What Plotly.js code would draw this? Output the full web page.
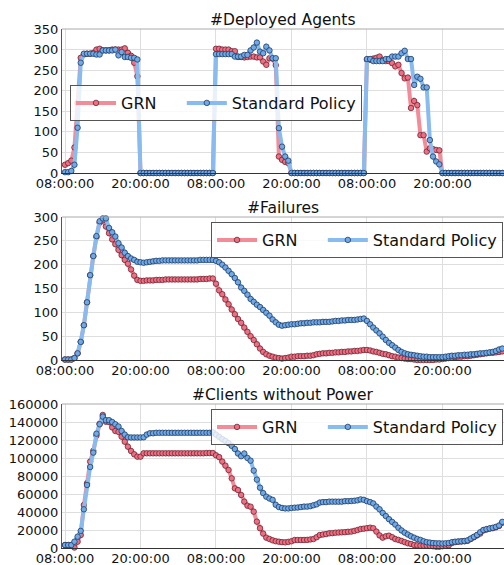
<!DOCTYPE html>
<html>
<head>
<meta charset="utf-8">
<script src="https://cdn.plot.ly/plotly-3.0.1.min.js"></script>
<style>html,body{margin:0;padding:0;background:#fff;}#chart{width:504px;height:565px;}</style>
</head>
<body>
<div id="chart"></div>
<script>
// ---- data (30-minute samples starting 08:00 on day 1) ----
const startTime = '2017-01-01 08:00:00';
const stepMinutes = 30;
const seriesNames = ['GRN', 'Standard Policy'];
const chartTitles = ['#Deployed Agents', '#Failures', '#Clients without Power'];

const agentsGRN = [
  20,24,30,62,170,280,288,290,290,292,300,302,298,298,298,300,300,300,300,303,292,285,268,235,0,
  0,0,0,0,0,0,0,0,0,0,0,0,0,0,0,0,0,0,0,0,0,0,0,
  302,302,300,300,300,296,296,282,282,281,282,283,283,281,281,271,263,279,278,262,40,32,27,24,0,
  0,0,0,0,0,0,0,0,0,0,0,0,0,0,0,0,0,0,0,0,0,0,0,
  275,275,278,280,283,275,272,272,267,259,263,243,230,232,158,175,165,92,92,52,60,58,56,55,0,
  0,0,0,0,0,0,0,0,0,0,0,0,0,0,0,0,0,0,0
];
const agentsStd = [
  2,2,5,20,110,268,290,290,290,290,288,288,298,298,298,298,300,286,294,282,282,280,280,276,0,
  0,0,0,0,0,0,0,0,0,0,0,0,0,0,0,0,0,0,0,0,0,0,0,
  289,289,289,289,289,289,283,283,283,287,287,298,305,317,295,291,307,298,279,279,109,64,40,30,0,
  0,0,0,0,0,0,0,0,0,0,0,0,0,0,0,0,0,0,0,0,0,0,0,
  277,277,272,272,272,272,277,277,283,283,283,291,297,277,277,214,234,229,208,208,80,40,28,21,0,
  0,0,0,0,0,0,0,0,0,0,0,0,0,0,0,0,0,0,0
];
const failGRN = [
  1,1,1,4,14,38,73,121,178,218,258,288,293,280,
  266,253,243,231,220,210,202,190,177,168,
  166,166,167,167,167,168,168,168,169,169,169,169,169,169,169,169,169,169,169,170,170,170,171,171,
  160,146,138,127,117,106,96,86,78,68,
  59,50,42,33,24,17,12,9,7,5,
  4,3,4,5,7,7,8,8,8,9,
  9,10,12,13,14,14,15,15,16,16,
  17,17,18,18,19,19,20,21,21,20,
  18,17,15,13,12,10,8,7,5,4,
  3,2,2,1,0,0,0,0,0,0,
  1,1,2,3,4,5,6,7,7,8,
  8,9,10,11,12,13,14,15,15,16,
  17,18
];
const failStd = [
  1,1,1,4,14,38,73,121,178,218,260,291,297,297,
  277,268,259,245,236,225,218,213,210,206,
  205,204,205,206,207,208,208,209,209,209,209,209,209,209,209,209,209,209,209,210,210,210,210,210,
  208,205,200,194,187,180,172,163,152,145,
  137,128,122,116,111,105,99,93,85,79,
  74,72,73,74,75,75,76,77,77,78,
  78,79,79,79,80,80,80,81,82,82,
  83,83,84,84,84,85,86,87,82,75,
  68,62,56,49,42,36,31,26,21,17,
  14,12,11,10,9,8,7,7,6,6,
  6,6,6,7,8,9,9,10,10,11,
  11,12,12,13,14,14,15,16,17,19,
  22,24
];
const clientsGRN = [
  3300,3300,3300,500,7000,14400,47800,72000,96000,108000,
  125000,138000,147800,140300,140000,134000,130000,129000,123700,118100,
  112600,107800,104100,101500,101500,105200,105200,105200,105200,105200,
  105200,105200,105200,105200,105200,105200,105200,105200,105200,105200,
  105200,105200,105200,105200,105200,105500,105500,105500,
  103000,101000,96000,91500,86700,77400,66300,64400,58900,51500,
  47000,45900,40400,29300,22000,16000,11500,10000,8500,7500,
  7000,6500,6300,6800,7500,8900,8900,8900,8900,9000,
  9500,10000,12000,14400,15000,15500,16300,16500,17000,17200,
  17400,17600,18000,18200,19000,20000,21100,21500,22000,22600,
  22000,18200,14000,11500,13000,13700,12000,10000,9000,7800,
  6500,5200,4500,3300,3000,2600,2600,2600,2400,2000,
  1500,1500,2000,2600,3000,5500,6500,7000,7200,7500,
  8000,10000,12000,14000,16000,19500,20500,21500,22000,23000,
  24500,28000
];
const clientsStd = [
  3300,3300,3300,7000,12600,19000,43000,70000,90000,106000,
  127000,137500,146000,142000,142000,140000,137500,135000,130000,126000,
  123000,122800,122800,122800,122800,123000,126000,127500,127500,128000,
  128000,128000,128000,128000,128000,128000,128000,128000,128000,128000,
  128000,128000,128000,128000,128000,128000,128000,128500,
  126000,123500,121000,119000,116500,113500,110000,105000,102000,105000,
  100000,97000,86000,76000,67000,61000,57000,55000,53500,48000,
  45500,44500,44000,44000,44500,44800,45000,45500,46000,46000,
  46500,47500,48500,50500,51000,51000,51500,51500,51500,51500,
  51500,52000,52000,52200,52500,53000,54000,53500,52000,51000,
  49500,46000,43000,39000,35500,32000,29000,26000,22500,19500,
  17000,15000,13000,11500,10000,9000,7500,6500,6000,5500,
  5200,5200,5000,5200,5500,6500,7000,7200,7500,7800,
  8500,10500,12500,14500,17500,20000,21000,21800,22500,23500,
  25000,29000
];

// ---- time axis values ----
function pad(n){return (n<10?'0':'')+n;}
function timeAt(k){
  const t0 = new Date(startTime.replace(' ','T')+'Z').getTime();
  const d = new Date(t0 + k*stepMinutes*60000);
  return d.getUTCFullYear()+'-'+pad(d.getUTCMonth()+1)+'-'+pad(d.getUTCDate())+' '+pad(d.getUTCHours())+':'+pad(d.getUTCMinutes())+':00';
}
const times = agentsGRN.map((_,k)=>timeAt(k));

// ---- styling ----
const W=504, H=565;
const FONT='DejaVu Sans, sans-serif';
const redLine='#f38c99', redFill='#ec6f83', redEdge='#6e2330';
const bluLine='#88bbf0', bluFill='#70a9e6', bluEdge='#1e3b63';
const xRange=['2017-01-01 07:31:20','2017-01-04 05:47:00'];
const xdom=[62/W,1];
function ydom(top,bottom){return [1-bottom/H, 1-top/H];}
const panels=[
  {top:29,bottom:173,range:[0,350],dtick:50,grn:agentsGRN,std:agentsStd,leg:{l:70,t:85}},
  {top:217,bottom:360,range:[0,300],dtick:50,grn:failGRN,std:failStd,leg:{l:211,t:222}},
  {top:404,bottom:548,range:[0,160000],dtick:20000,grn:clientsGRN,std:clientsStd,leg:{l:211,t:409}}
];

const traces=[]; const layout={
  width:W,height:H,margin:{l:0,r:0,t:0,b:0},paper_bgcolor:'#fff',plot_bgcolor:'#fff',
  font:{family:FONT,size:13,color:'#111'},showlegend:true,annotations:[],shapes:[]
};
const legendLabels=[seriesNames[0]+'\u00a0\u00a0\u00a0\u00a0', seriesNames[1]];
panels.forEach((p,idx)=>{
  const n=idx===0?'':String(idx+1);
  const legName='legend'+n;
  [[legendLabels[0],p.grn,redLine,redFill,redEdge],[legendLabels[1],p.std,bluLine,bluFill,bluEdge]].forEach(s=>{
    traces.push({type:'scatter',mode:'lines+markers',name:s[0],x:times,y:s[1],xaxis:'x'+n,yaxis:'y'+n,
      legend:legName,cliponaxis:false,
      line:{color:s[2],width:4},
      marker:{size:5.5,color:s[3],line:{color:s[4],width:0.8}}});
  });
  layout['xaxis'+n]={domain:xdom,anchor:'y'+n,type:'date',range:xRange,tick0:'2017-01-01 08:00:00',dtick:12*3600000,
    tickformat:'%H:%M:%S',showgrid:true,gridcolor:'#dedede',gridwidth:1,showline:true,linecolor:'#333',linewidth:1,
    ticks:'',ticklabelstandoff:-2,zeroline:false,automargin:false,fixedrange:true,
    tickfont:{family:FONT,size:13,color:'#111'}};
  layout['yaxis'+n]={domain:ydom(p.top,p.bottom),anchor:'x'+n,range:p.range,dtick:p.dtick,tickformat:'d',
    showgrid:true,gridcolor:'#dedede',gridwidth:1,showline:true,linecolor:'#555',linewidth:1,
    ticks:'',zeroline:false,automargin:false,fixedrange:true,
    tickfont:{family:FONT,size:13,color:'#111'}};
  layout.shapes.push({type:'line',xref:'x'+n+' domain',yref:'y'+n+' domain',x0:0,x1:1,y0:1,y1:1,line:{color:'#aaaaaa',width:1}});
  layout[legName]={x:p.leg.l/W,y:1-p.leg.t/H,xanchor:'left',yanchor:'top',orientation:'h',
    bgcolor:'rgba(255,255,255,0.8)',bordercolor:'#555',borderwidth:1,
    font:{family:FONT,size:16,color:'#111'},itemwidth:40,tracegroupgap:0};
  layout.annotations.push({text:chartTitles[idx],xref:'paper',yref:'paper',x:(xdom[0]+xdom[1])/2,y:1-p.top/H,
    xanchor:'center',yanchor:'bottom',yshift:-2,showarrow:false,font:{family:FONT,size:15.5,color:'#111'}});
});
Plotly.newPlot('chart',traces,layout,{staticPlot:true,displayModeBar:false});
</script>
</body>
</html>
